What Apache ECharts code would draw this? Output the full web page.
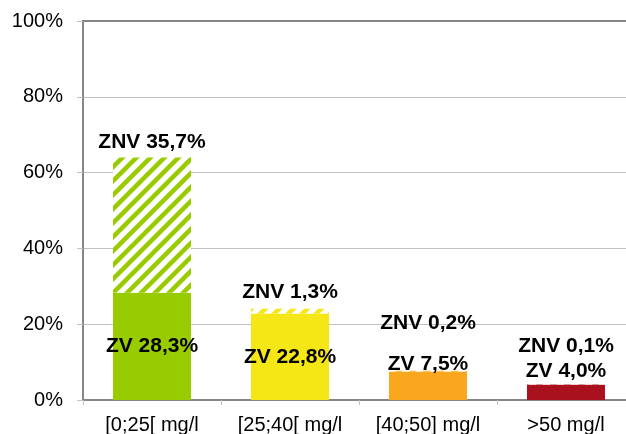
<!DOCTYPE html>
<html>
<head>
<meta charset="utf-8">
<script src="https://cdn.jsdelivr.net/npm/echarts@6/dist/echarts.min.js"></script>
<style>
  html, body { margin: 0; padding: 0; background: #fff; }
  #main { width: 626px; height: 434px; }
</style>
</head>
<body>
<div id="main"></div>
<script>
// data
var categories = ['[0;25[ mg/l', '[25;40[ mg/l', '[40;50] mg/l', '>50 mg/l']
var zvValues = [28.3, 22.8, 7.5, 4.0]
var znvValues = [35.7, 1.3, 0.2, 0.1]
var yTicks = [0, 20, 40, 60, 80, 100]

// colours per category
var barColors = ['#99cc00', '#f5e616', '#f9a81e', '#a8111d']
// label placement per category
var zvLabelPos = ['inside', 'inside', 'top', 'top']
var zvLabelDist = [0, 0, -3, 3]
var znvLabelDist = [5, 6, 37, 28]

var font = 'Liberation Sans, Arial, sans-serif'

function pct(v) {
  return v.toFixed(1).replace('.', ',') + '%'
}

// diagonal stripes for the ZNV part
function hatch(color) {
  var s = 14
  var c = document.createElement('canvas')
  c.width = s
  c.height = s
  var ctx = c.getContext('2d')
  ctx.fillStyle = '#fff'
  ctx.fillRect(0, 0, s, s)
  ctx.strokeStyle = color
  ctx.lineWidth = 4.5
  ctx.beginPath()
  ctx.moveTo(0, s); ctx.lineTo(s, 0)
  ctx.moveTo(-s / 2, s / 2); ctx.lineTo(s / 2, -s / 2)
  ctx.moveTo(s / 2, s * 1.5); ctx.lineTo(s * 1.5, s / 2)
  ctx.stroke()
  return c
}

var labelStyle = {
  show: true,
  color: '#000',
  fontFamily: font,
  fontWeight: 'bold',
  fontSize: 21
}

var zvData = zvValues.map(function(v, i) {
  return {
    value: v,
    itemStyle: { color: barColors[i] },
    label: Object.assign({}, labelStyle, {
      position: zvLabelPos[i],
      distance: zvLabelDist[i],
      formatter: 'ZV ' + pct(v)
    })
  }
})

var znvData = znvValues.map(function(v, i) {
  return {
    value: v,
    itemStyle: { color: { image: hatch(barColors[i]), repeat: 'repeat' } },
    label: Object.assign({}, labelStyle, {
      position: 'top',
      distance: znvLabelDist[i],
      formatter: 'ZNV ' + pct(v)
    })
  }
})

var myChart = echarts.init(document.getElementById('main'))
myChart.setOption({
  animation: false,
  grid: {
    left: 83,
    width: 552,
    top: 21,
    bottom: 34,
    outerBoundsMode: 'none',
    containLabel: false,
    show: true,
    borderColor: '#868686',
    borderWidth: 2
  },
  xAxis: {
    type: 'category',
    data: categories,
    axisLine: { show: true, lineStyle: { color: '#868686', width: 2 } },
    axisTick: { show: true, length: 5, lineStyle: { color: '#c0c0c0' } },
    axisLabel: { interval: 0, color: '#000', fontFamily: font, fontSize: 20, margin: 15 }
  },
  yAxis: {
    type: 'value',
    min: yTicks[0],
    max: yTicks[yTicks.length - 1],
    interval: yTicks[1] - yTicks[0],
    axisLine: { show: true, lineStyle: { color: '#868686', width: 2 } },
    axisTick: { show: true, length: 6, lineStyle: { color: '#c0c0c0' } },
    axisLabel: {
      color: '#000',
      fontFamily: font,
      fontSize: 20,
      margin: 20,
      formatter: '{value}%'
    },
    splitLine: {
      show: true,
      showMinLine: false,
      showMaxLine: false,
      lineStyle: { color: '#c0c0c0', width: 1 }
    }
  },
  series: [
    {
      name: 'ZV',
      type: 'bar',
      stack: 'total',
      barWidth: 78,
      data: zvData
    },
    {
      name: 'ZNV',
      type: 'bar',
      stack: 'total',
      barWidth: 78,
      data: znvData
    }
  ]
})
</script>
</body>
</html>
